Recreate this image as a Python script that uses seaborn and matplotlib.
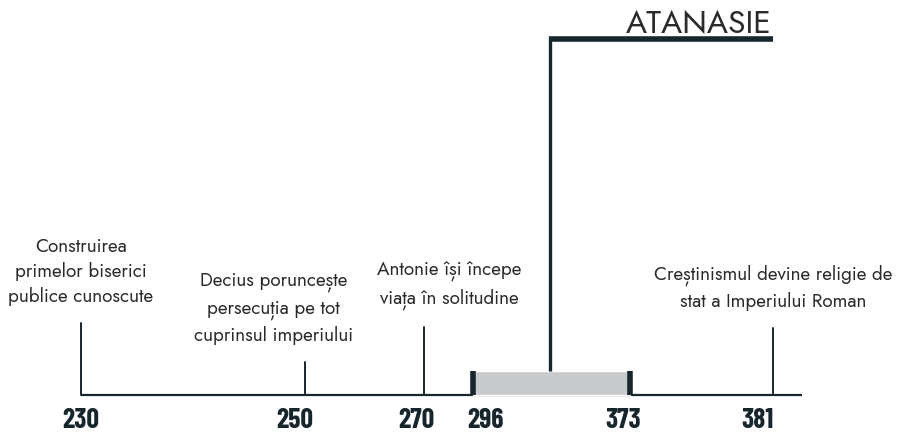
import matplotlib
matplotlib.use("Agg")
import matplotlib.pyplot as plt
import seaborn as sns
import pandas as pd
import logging

logging.getLogger("matplotlib.font_manager").setLevel(logging.ERROR)

# evenimentele de pe axa timpului (pozitia pe axa, 0..100)
ani = ["230", "250", "270", "381"]
pozitii = [0, 32.4, 49.6, 100]
inaltimi = [72, 33, 68, 67]
texte = [
    "Construirea\nprimelor biserici\npublice cunoscute",
    "Decius poruncește\npersecuția pe tot\ncuprinsul imperiului",
    "Antonie își începe\nviața în solitudine",
    "Creștinismul devine religie de\nstat a Imperiului Roman",
]

# perioada lui Atanasie
perioada_ani = ["296", "373"]
perioada_poz = [56.6, 79.3]
atanasie_poz = 67.8
nume = "ATANASIE"

# mici deplasari ale etichetelor fata de liniile lor
nudge_text = [0, -4.6, 3.6, 0.0]
nudge_an = [0, -1.45, -1.2, -2.2]
nudge_perioada = [1.9, -0.9]

dark = "#17252d"
text_col = "#2b2b2b"

sns.set_theme(style="white")
plt.rcParams["font.family"] = ["Jost", "Lato", "DejaVu Sans"]
an_family = ["Barlow Condensed", "Fjalla One", "Oswald", "DejaVu Sans"]

fig, ax = plt.subplots(figsize=(8.97, 4.32), dpi=100)
fig.subplots_adjust(left=0, right=1, bottom=0, top=1)
ax.set_xlim(-11.7, 117.9)
ax.set_ylim(-37, 395)
ax.axis("off")

# axa principala
ax.plot([0, 104.2], [0, 0], color=dark, lw=1.6, solid_capstyle="butt")

# bara perioadei
ax.barh(0, perioada_poz[1] - perioada_poz[0], left=perioada_poz[0], height=24.5,
        align="edge", color="#c9cacc", zorder=2)
for p in perioada_poz:
    ax.plot([p, p], [0, 24.5], color=dark, lw=4, solid_capstyle="butt", zorder=3)

# linia Atanasie
ax.plot([atanasie_poz, atanasie_poz], [24.5, 358], color=dark, lw=2.4,
        solid_capstyle="butt")
ax.plot([atanasie_poz - 0.15, 100], [356.5, 356.5], color=dark, lw=4,
        solid_capstyle="butt")
ax.text(99.8, 362, nume, ha="right", va="baseline", fontsize=23, color=text_col,
        fontweight="light")

# evenimente
ev = pd.DataFrame({"an": ani, "x": pozitii, "h": inaltimi, "text": texte,
                   "dx": nudge_text})
for _, r in ev.iterrows():
    ax.plot([r.x, r.x], [0, r.h], color=dark, lw=1.4)
    ax.text(r.x + r.dx, r.h + 17, r.text, ha="center", va="bottom", fontsize=13.6,
            color=text_col, linespacing=1.4)

# etichetele anilor
for lab, x, dx in list(zip(ani, pozitii, nudge_an)) + list(zip(perioada_ani, perioada_poz, nudge_perioada)):
    ax.text(x + dx, -25, lab, ha="center", va="center", color=dark,
            family=an_family, fontweight="bold", fontsize=20)

fig.savefig("out.png", dpi=100)
